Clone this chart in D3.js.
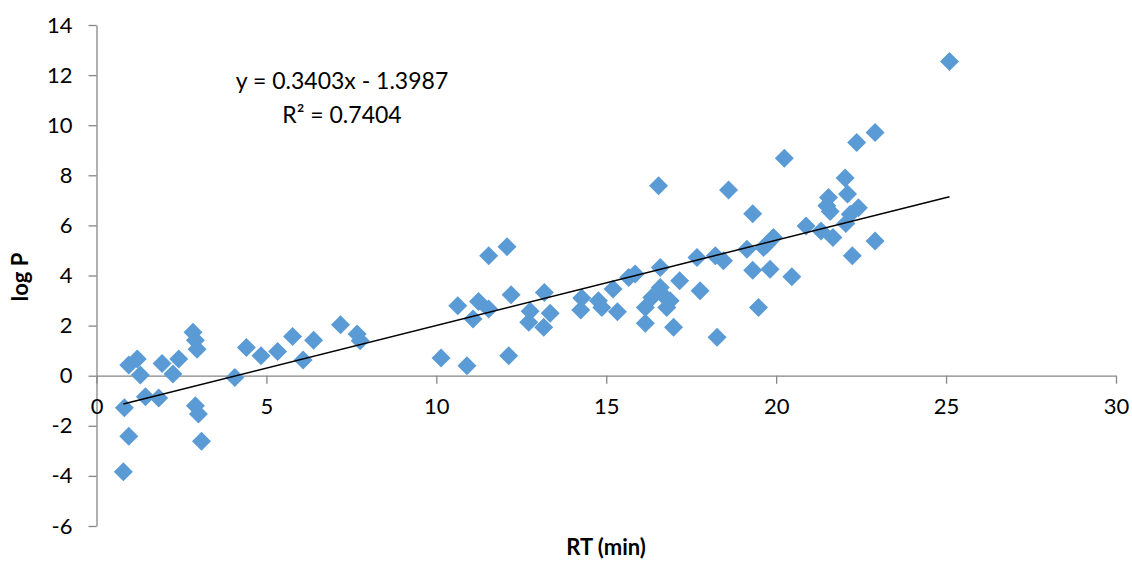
<!DOCTYPE html>
<html>
<head>
<meta charset="utf-8">
<script src="https://cdn.jsdelivr.net/npm/d3@7"></script>
<style>
  html, body { margin: 0; padding: 0; background: #fff; }
  svg text { font-family: Lato, "Open Sans", sans-serif; fill: #000; }
</style>
</head>
<body>
<svg id="chart" width="1132" height="561"></svg>
<script>
const rtValues = [0.82, 0.95, 1.2, 1.29, 1.44, 1.83, 1.93, 2.25, 2.42, 2.84, 2.91, 2.96, 2.91, 3.0, 3.09, 0.95, 0.79,
  4.07, 4.41, 4.84, 5.33, 5.77, 6.08, 6.39, 7.18, 7.67, 7.76,
  10.14, 10.9, 10.63, 11.08, 11.24, 11.54, 11.54, 12.08, 12.2, 12.13, 12.76, 12.72, 13.18, 13.35, 13.16,
  14.28, 14.25, 14.77, 14.87, 15.2, 15.33, 16.54, 18.6, 19.31, 15.66, 15.85, 16.15, 16.15, 16.34,
  16.59, 16.59, 16.69, 16.78, 16.88, 16.98, 17.16, 17.67, 17.76, 18.21, 18.45, 18.26, 19.14, 19.31, 19.48,
  20.24, 22.03, 22.1, 21.54, 21.49, 21.59, 22.42, 22.18, 22.05, 20.88, 21.32, 21.67, 22.91, 22.24,
  19.92, 19.73, 19.63, 19.82, 20.46, 22.37, 22.91, 25.1];
const logPValues = [-1.28, 0.43, 0.67, 0.03, -0.84, -0.89, 0.49, 0.07, 0.67, 1.73, 1.42, 1.06, -1.2, -1.53, -2.62, -2.42, -3.83,
  -0.07, 1.13, 0.8, 0.97, 1.56, 0.63, 1.42, 2.03, 1.66, 1.4,
  0.71, 0.4, 2.79, 2.26, 2.96, 2.66, 4.79, 5.15, 3.23, 0.8, 2.57, 2.13, 3.32, 2.49, 1.93,
  3.1, 2.62, 2.99, 2.72, 3.46, 2.55, 7.58, 7.41, 6.47, 3.92, 4.06, 2.72, 2.09, 3.12,
  4.32, 3.52, 3.19, 2.72, 2.99, 1.93, 3.79, 4.72, 3.39, 4.79, 4.59, 1.53, 5.05, 4.21, 2.72,
  8.68, 7.89, 7.25, 7.11, 6.78, 6.55, 6.7, 6.45, 6.08, 5.98, 5.78, 5.52, 5.38, 4.79,
  5.52, 5.25, 5.12, 4.25, 3.95, 9.31, 9.71, 12.54];
const xTicks = [0, 5, 10, 15, 20, 25, 30];
const yTicks = [-6, -4, -2, 0, 2, 4, 6, 8, 10, 12, 14];
const slope = 0.3403, intercept = -1.3987;
const equationLabel = "y = 0.3403x - 1.3987";
const r2Label = "R² = 0.7404";
const xTitle = "RT (min)";
const yTitle = "log P";

const svg = d3.select("#chart");
const x = d3.scaleLinear().domain([0, 30]).range([96.5, 1116]);
const y = d3.scaleLinear().domain([-6, 14]).range([526, 25]);
const axisColor = "#868686";
const fmt = d => String(d);

// y axis
const yAxis = svg.append("g").attr("transform", `translate(${x(0)},0)`)
  .call(d3.axisLeft(y).tickValues(yTicks).tickSize(8).tickPadding(16).tickSizeOuter(0).tickFormat(fmt));
yAxis.select(".domain").attr("stroke", axisColor).attr("stroke-width", 1.3);
yAxis.selectAll(".tick line").attr("stroke", axisColor).attr("stroke-width", 1.3);
yAxis.selectAll(".tick text").attr("font-size", 22).attr("fill", "#000").attr("font-family", "Lato");

// x axis at y=0
const xAxis = svg.append("g").attr("transform", `translate(0,${y(0)})`)
  .call(d3.axisBottom(x).tickValues(xTicks).tickSize(8).tickPadding(15).tickSizeOuter(0).tickFormat(fmt));
xAxis.select(".domain").attr("stroke", axisColor).attr("stroke-width", 1.3);
xAxis.selectAll(".tick line").attr("stroke", axisColor).attr("stroke-width", 1.3);
xAxis.selectAll(".tick text").attr("font-size", 22).attr("fill", "#000").attr("font-family", "Lato");

// points
const pts = rtValues.map((v, i) => [v, logPValues[i]]);
const diamond = "M0,-9.5L9.5,0L0,9.5L-9.5,0Z";
svg.append("g").selectAll("path").data(pts).join("path")
  .attr("d", diamond)
  .attr("transform", d => `translate(${x(d[0])},${y(d[1])})`)
  .attr("fill", "#5B9BD5");

// trendline
const xMin = d3.min(rtValues), xMax = d3.max(rtValues);
svg.append("line")
  .attr("x1", x(xMin)).attr("y1", y(slope * xMin + intercept))
  .attr("x2", x(xMax)).attr("y2", y(slope * xMax + intercept))
  .attr("stroke", "#000").attr("stroke-width", 1.5);

// equation
svg.append("text").attr("x", 342).attr("y", 89).attr("text-anchor", "middle")
  .attr("font-size", 23).text(equationLabel);
svg.append("text").attr("x", 342).attr("y", 123).attr("text-anchor", "middle")
  .attr("font-size", 23).text(r2Label);

// titles
svg.append("text").attr("x", 606).attr("y", 555).attr("text-anchor", "middle")
  .attr("font-size", 22).attr("font-weight", "bold").text(xTitle);
svg.append("text").attr("transform", "translate(28,277) rotate(-90)").attr("text-anchor", "middle")
  .attr("font-size", 22).attr("font-weight", "bold").text(yTitle);
</script>
</body>
</html>
